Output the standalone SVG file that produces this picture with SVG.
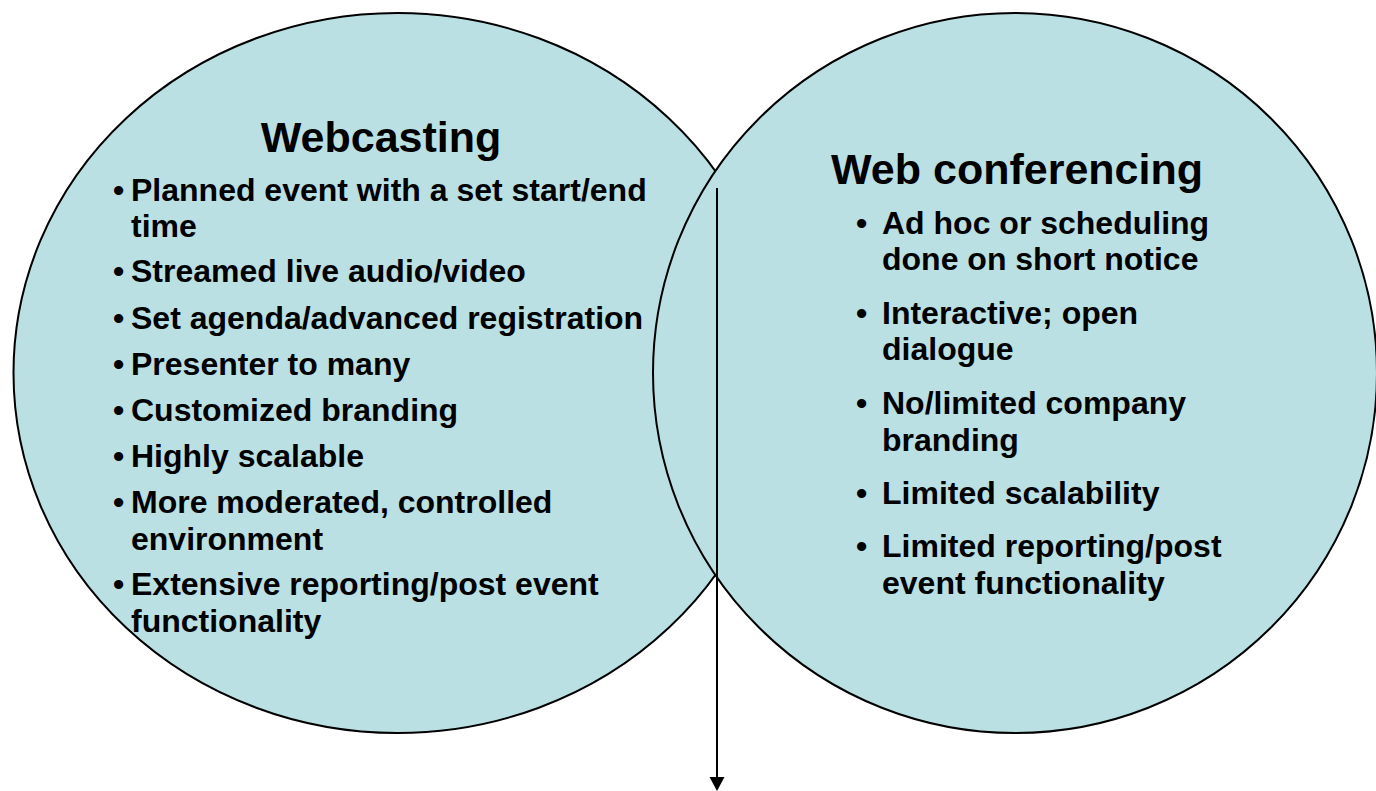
<svg xmlns="http://www.w3.org/2000/svg" width="1376" height="791" viewBox="0 0 1376 791">
<defs>
<style>
.shape{fill:#BBE0E3;stroke:#000;stroke-width:2}
.title{font-family:"Liberation Sans",Arial,sans-serif;font-weight:bold;font-size:43px;fill:#000;text-anchor:middle}
.item{font-family:"Liberation Sans",Arial,sans-serif;font-weight:bold;font-size:32px;fill:#000}
.conn{stroke:#000;stroke-width:2;fill:none}
</style>
</defs>
<rect width="1376" height="791" fill="#fff"/>
<g id="webcasting">
<ellipse class="shape" cx="397.5" cy="373" rx="384" ry="360"/>
<text class="title" x="381" y="152">Webcasting</text>
<g class="item">
<text x="113" y="201">•</text><text x="131" y="201">Planned event with a set start/end</text>
<text x="131" y="237">time</text>
<text x="113" y="282">•</text><text x="131" y="282">Streamed live audio/video</text>
<text x="113" y="329">•</text><text x="131" y="329">Set agenda/advanced registration</text>
<text x="113" y="375">•</text><text x="131" y="375">Presenter to many</text>
<text x="113" y="421">•</text><text x="131" y="421">Customized branding</text>
<text x="113" y="467">•</text><text x="131" y="467">Highly scalable</text>
<text x="113" y="513">•</text><text x="131" y="513">More moderated, controlled</text>
<text x="131" y="550">environment</text>
<text x="113" y="595">•</text><text x="131" y="595">Extensive reporting/post event</text>
<text x="131" y="632">functionality</text>
</g>
</g>
<g id="web-conferencing">
<ellipse class="shape" cx="1015" cy="373" rx="362" ry="360"/>
<text class="title" x="1017" y="184">Web conferencing</text>
<g class="item">
<text x="856" y="234">•</text><text x="882" y="234">Ad hoc or scheduling</text>
<text x="882" y="270">done on short notice</text>
<text x="856" y="324">•</text><text x="882" y="324">Interactive; open</text>
<text x="882" y="360">dialogue</text>
<text x="856" y="414">•</text><text x="882" y="414">No/limited company</text>
<text x="882" y="451">branding</text>
<text x="856" y="504">•</text><text x="882" y="504">Limited scalability</text>
<text x="856" y="557">•</text><text x="882" y="557">Limited reporting/post</text>
<text x="882" y="594">event functionality</text>
</g>
</g>
<g id="connectors">
<line class="conn" x1="717" y1="188" x2="717" y2="779"/>
<path d="M709.5,777 L724.5,777 L717,791 z" fill="#000"/>
</g>
</svg>
